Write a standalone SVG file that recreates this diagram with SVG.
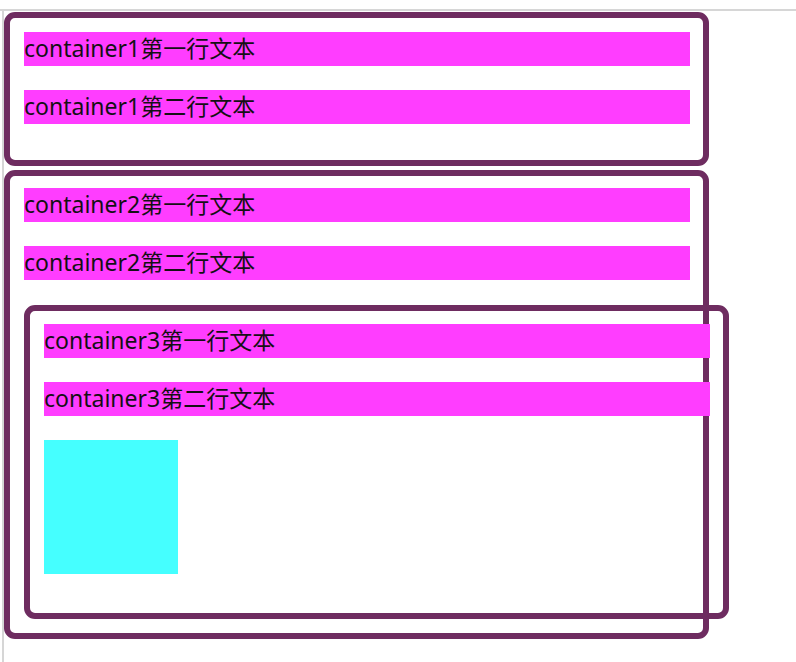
<svg xmlns="http://www.w3.org/2000/svg" width="796" height="662" viewBox="0 0 796 662">
<style>
.box{fill:none;stroke:#6E2C60;stroke-width:6}
.bar{fill:#FF3DFF}
.t{font-family:"Noto Sans","Noto Sans CJK SC",sans-serif;font-size:23px;fill:#141014}
.sq{fill:#45FFFF}
.guide{stroke:#D6D6D6;stroke-width:2;fill:none}
</style>
<rect x="0" y="0" width="796" height="662" fill="#FFFFFF"/>
<line class="guide" x1="0" y1="10" x2="796" y2="10"/>
<line class="guide" x1="3" y1="10" x2="3" y2="662"/>
<g id="container1">
  <rect class="box" x="7" y="15" width="699" height="148" rx="8"/>
  <rect class="bar" x="24" y="32" width="666" height="34"/>
  <text class="t" x="24" y="57">container1第一行文本</text>
  <rect class="bar" x="24" y="90" width="666" height="34"/>
  <text class="t" x="24" y="115">container1第二行文本</text>
</g>
<g id="container2">
  <rect class="box" x="7" y="173" width="699" height="463" rx="8"/>
  <rect class="bar" x="24" y="188" width="666" height="34"/>
  <text class="t" x="24" y="213">container2第一行文本</text>
  <rect class="bar" x="24" y="246" width="666" height="34"/>
  <text class="t" x="24" y="271">container2第二行文本</text>
</g>
<g id="container3">
  <rect class="box" x="27" y="308" width="699" height="308" rx="8"/>
  <rect class="bar" x="44" y="324" width="666" height="34"/>
  <text class="t" x="44" y="349">container3第一行文本</text>
  <rect class="bar" x="44" y="382" width="666" height="34"/>
  <text class="t" x="44" y="407">container3第二行文本</text>
  <rect class="sq" x="44" y="440" width="134" height="134"/>
</g>
<g id="connectors"></g>
</svg>
